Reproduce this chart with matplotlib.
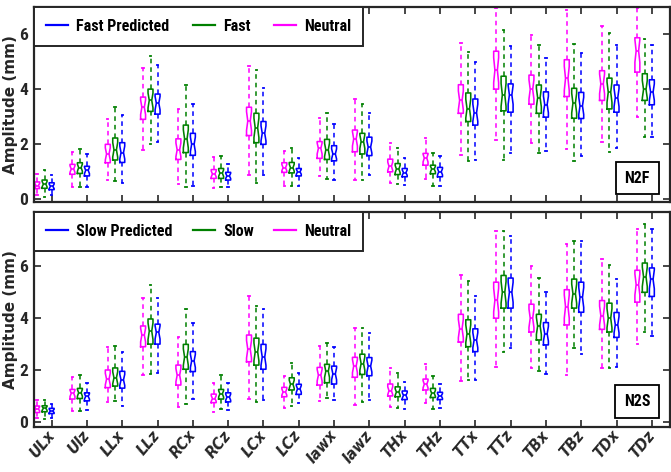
import matplotlib
matplotlib.use("Agg")
import matplotlib.pyplot as plt
from matplotlib.lines import Line2D
import numpy as np

categories = ["ULx", "Ulz", "LLx", "LLz", "RCx", "RCz", "LCx", "LCz", "Iawx", "Iawz",
              "THx", "THz", "TTx", "TTz", "TBx", "TBz", "TDx", "TDz"]

# (whisker low, q1, median, q3, whisker high) per category
n2f_neutral = [(0.15,0.39,0.5,0.63,0.91),(0.45,0.91,1.1,1.27,1.73),(0.7,1.33,1.65,2.0,2.93),
               (1.8,2.91,3.35,3.72,4.78),(0.57,1.45,1.8,2.2,3.3),(0.4,0.76,0.92,1.08,1.55),
               (0.9,2.32,2.85,3.35,4.84),(0.5,0.98,1.15,1.33,1.77),(0.85,1.49,1.85,2.1,2.95),
               (0.7,1.73,2.2,2.52,3.65),(0.6,1.0,1.2,1.46,2.06),(0.73,1.24,1.5,1.67,2.24),
               (1.6,3.13,3.6,4.17,5.7),(2.16,4.01,4.7,5.39,6.98),(2.06,3.46,4.0,4.52,5.98),
               (1.83,3.74,4.4,5.08,6.9),(2.1,3.6,4.2,4.68,6.3),(3.0,4.63,5.4,5.88,6.95)]
n2f_fast = [(0.1,0.4,0.55,0.7,1.08),(0.45,0.94,1.15,1.33,1.83),(0.65,1.43,1.8,2.23,3.35),
            (2.0,3.2,3.6,4.01,5.23),(0.45,1.7,2.2,2.7,4.17),(0.45,0.76,0.95,1.12,1.58),
            (0.6,2.06,2.6,3.13,4.72),(0.5,0.96,1.15,1.34,1.88),(0.75,1.45,1.8,2.18,3.13),
            (0.7,1.65,2.1,2.4,3.48),(0.55,0.9,1.1,1.3,1.85),(0.49,0.93,1.1,1.24,1.67),
            (1.39,2.83,3.3,3.87,5.37),(1.43,3.22,3.8,4.48,6.16),(1.7,3.13,3.7,4.16,5.6),
            (1.39,2.95,3.5,4.04,5.67),(1.73,3.29,3.9,4.41,6.06),(2.28,3.6,4.0,4.57,5.84)]
n2f_fast_pred = [(0.15,0.35,0.47,0.6,0.88),(0.45,0.85,1.05,1.2,1.63),(0.6,1.34,1.7,2.06,3.05),
                 (2.1,3.1,3.5,3.83,4.9),(0.5,1.6,2.0,2.4,3.46),(0.45,0.7,0.85,0.98,1.3),
                 (0.9,2.0,2.4,2.83,4.05),(0.5,0.85,1.0,1.12,1.5),(0.7,1.4,1.65,1.95,2.75),
                 (0.88,1.59,1.9,2.26,3.13),(0.51,0.82,0.97,1.12,1.49),(0.49,0.82,1.0,1.16,1.57),
                 (1.43,2.7,3.15,3.65,5.0),(1.67,3.17,3.8,4.2,5.57),(1.76,2.99,3.45,3.91,5.15),
                 (1.59,2.94,3.4,3.89,5.33),(1.85,3.17,3.7,4.16,5.63),(2.28,3.44,3.9,4.35,5.6)]

n2s_neutral = [(0.15,0.36,0.5,0.61,0.86),(0.43,0.88,1.1,1.25,1.74),(0.75,1.32,1.65,2.0,2.9),
               (1.8,2.9,3.35,3.7,4.77),(0.58,1.42,1.8,2.19,3.26),(0.39,0.74,0.9,1.07,1.51),
               (0.9,2.32,2.8,3.35,4.84),(0.52,0.97,1.15,1.33,1.78),(0.81,1.42,1.8,2.1,2.93),
               (0.65,1.72,2.15,2.49,3.61),(0.58,1.0,1.2,1.46,2.09),(0.74,1.23,1.45,1.65,2.22),
               (1.57,3.08,3.6,4.15,5.68),(2.13,4.0,4.7,5.39,7.35),(2.06,3.47,4.0,4.54,6.0),
               (1.81,3.74,4.45,5.1,6.88),(2.09,3.57,4.1,4.68,6.28),(3.0,4.62,5.3,5.85,7.46)]
n2s_slow = [(0.1,0.39,0.52,0.62,0.86),(0.43,0.9,1.12,1.29,1.8),(0.8,1.38,1.7,2.08,2.93),
            (1.85,3.0,3.5,3.97,5.29),(0.68,2.03,2.5,2.99,4.35),(0.49,0.88,1.08,1.25,1.81),
            (0.77,2.19,2.7,3.23,4.48),(0.6,1.23,1.45,1.7,2.28),(0.93,1.51,1.95,2.22,3.03),
            (0.75,1.83,2.25,2.61,3.64),(0.52,0.97,1.15,1.35,1.87),(0.49,0.94,1.1,1.29,1.77),
            (1.61,2.9,3.4,3.94,5.42),(2.71,4.39,5.0,5.65,7.35),(1.97,3.16,3.7,4.15,5.55),
            (2.86,4.39,4.95,5.51,6.97),(2.09,3.47,4.0,4.58,6.04),(3.48,5.0,5.6,6.13,7.65)]
n2s_slow_pred = [(0.15,0.32,0.42,0.52,0.68),(0.45,0.81,0.98,1.12,1.48),(0.6,1.3,1.62,1.95,2.71),
                 (1.9,3.0,3.45,3.77,4.77),(0.9,1.94,2.35,2.71,3.81),(0.45,0.77,0.95,1.12,1.51),
                 (0.84,2.03,2.5,2.99,4.35),(0.71,1.06,1.27,1.45,1.87),(0.84,1.46,1.85,2.15,2.9),
                 (0.86,1.78,2.15,2.48,3.42),(0.48,0.86,1.02,1.19,1.55),(0.52,0.86,1.0,1.14,1.46),
                 (1.61,2.71,3.15,3.59,4.84),(2.84,4.39,5.0,5.55,7.19),(1.85,2.97,3.4,3.83,5.03),
                 (2.61,4.23,4.8,5.39,6.97),(2.13,3.26,3.75,4.22,5.51),(3.32,4.84,5.5,5.94,7.43)]

top_labels = ["Fast Predicted", "Fast", "Neutral"]
bottom_labels = ["Slow Predicted", "Slow", "Neutral"]
panel_tags = ["N2F", "N2S"]

C_NEU = "#ff00ff"
C_GRN = "#008000"
C_BLU = "#0000ff"
SPINE = "#262626"

COND = ["Roboto Condensed", "DejaVu Sans"]
plt.rcParams["font.family"] = COND
plt.rcParams["font.weight"] = "bold"

fig = plt.figure(figsize=(6.71, 4.72), dpi=100)
W, H = 671.0, 472.0
ax_top = fig.add_axes([34 / W, 1 - 202 / H, 635.5 / W, 195 / H])
ax_bot = fig.add_axes([34 / W, 1 - 427 / H, 635.5 / W, 215 / H])


def stats_list(series):
    out = []
    for lo, q1, med, q3, hi in series:
        half = 0.33 * (q3 - q1)
        out.append(dict(whislo=lo, q1=q1, med=med, q3=q3, whishi=hi,
                        cilo=med - half, cihi=med + half, fliers=[]))
    return out


def draw(ax, series_list, colors, offsets):
    pos = np.arange(1, len(categories) + 1)
    for series, col, off in zip(series_list, colors, offsets):
        ax.bxp(stats_list(series), positions=pos + off, widths=0.14,
               shownotches=True, showfliers=False, patch_artist=False,
               capwidths=0.04, manage_ticks=False,
               boxprops=dict(color=col, linewidth=1.15),
               medianprops=dict(color=col, linewidth=1.15),
               whiskerprops=dict(color=col, linewidth=1.1, linestyle=(0, (3.0, 2.6))),
               capprops=dict(color=col, linewidth=1.3))


draw(ax_top, [n2f_neutral, n2f_fast, n2f_fast_pred], [C_NEU, C_GRN, C_BLU], [-0.41, -0.2, 0.0])
draw(ax_bot, [n2s_neutral, n2s_slow, n2s_slow_pred], [C_NEU, C_GRN, C_BLU], [-0.41, -0.2, 0.0])

ax_top.set_ylim(-0.1, 7.0)
ax_bot.set_ylim(-0.2, 8.1)
for ax, labels, tag in [(ax_top, top_labels, panel_tags[0]), (ax_bot, bottom_labels, panel_tags[1])]:
    ax.set_xlim(0.5, 18.5)
    ax.set_xticks(np.arange(1, len(categories) + 1))
    ax.set_yticks([0, 2, 4, 6])
    ax.tick_params(direction="in", top=True, right=True, length=5, width=1.2,
                   color=SPINE, labelsize=12.5, labelcolor="#262626", pad=4)
    for sp in ax.spines.values():
        sp.set_linewidth(1.6)
        sp.set_color(SPINE)
    ax.set_ylabel("Amplitude (mm)", fontsize=11, fontweight="bold", color="#262626",
                  family=["DejaVu Sans"])
    ax.yaxis.set_label_coords(-0.025, 0.5)
    handles = [Line2D([], [], color=C_BLU, lw=1.6),
               Line2D([], [], color=C_GRN, lw=1.6),
               Line2D([], [], color=C_NEU, lw=1.6)]
    hfrac = 36 / (195 if ax is ax_top else 215)
    leg = ax.legend(handles, labels, ncol=3, loc="upper left",
                    bbox_to_anchor=(0, 1 - hfrac, 329 / 635.5, hfrac), mode="expand",
                    borderaxespad=0, fancybox=False, framealpha=1, edgecolor=SPINE,
                    handlelength=1.4, handletextpad=0.5, borderpad=0.75,
                    prop=dict(weight="bold", size=11.5))
    leg.get_frame().set_linewidth(1.4)
    ax.text(0.949, 0.123 if ax is ax_top else 0.119, tag, transform=ax.transAxes,
            ha="center", va="center", fontsize=11.5, fontweight="bold",
            bbox=dict(boxstyle="square,pad=0.55", fc="white", ec="black", lw=1.3))

ax_top.tick_params(axis="x", labelbottom=False)
ax_bot.set_xticks(np.arange(1, len(categories) + 1), categories,
                  rotation=50, ha="right", va="center", rotation_mode="anchor",
                  fontsize=11.5, fontweight="bold", family=["DejaVu Sans"],
                  fontstretch="condensed", fontstyle="oblique")

fig.savefig("out.png", dpi=100)
